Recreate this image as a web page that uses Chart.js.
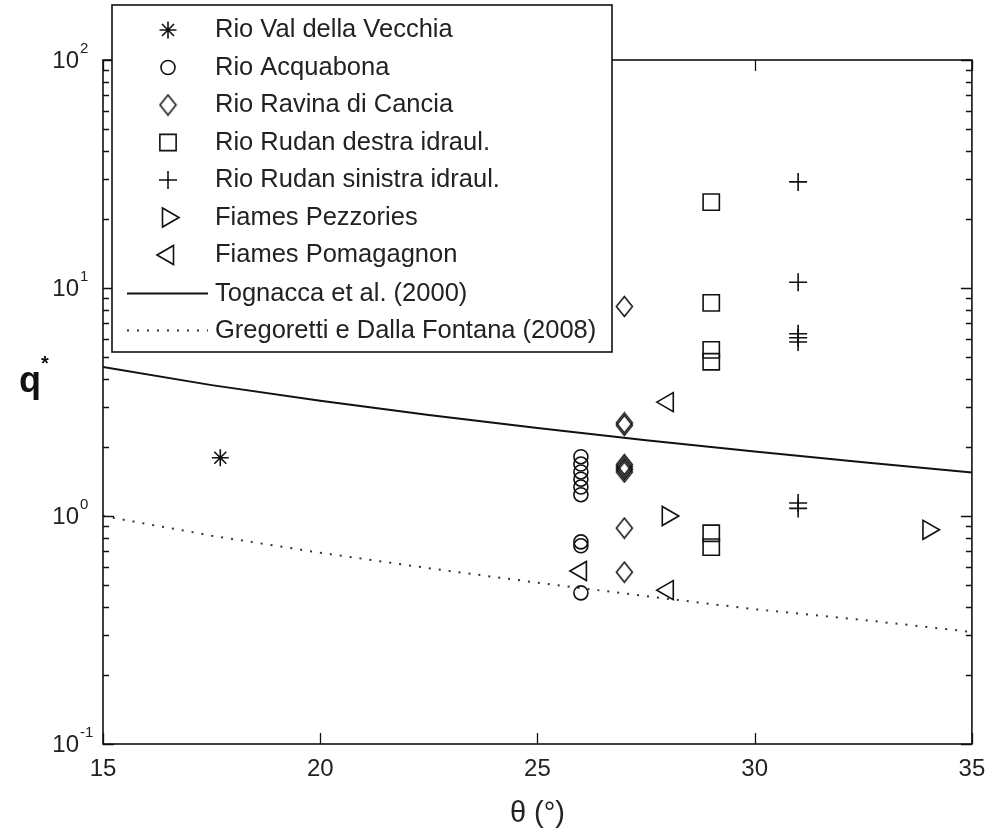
<!DOCTYPE html>
<html>
<head>
<meta charset="utf-8">
<script src="https://cdn.jsdelivr.net/npm/chart.js@4.4.0/dist/chart.umd.min.js"></script>
<style>
html, body { margin: 0; padding: 0; background: #fff; }
canvas { display: block; }
</style>
</head>
<body>
<canvas id="graph" width="985" height="828"></canvas>
<script>
// values (theta in degrees, q*)
var vecchiaX = [17.7];
var vecchiaY = [1.8];

var acquabonaX = [26, 26, 26, 26, 26, 26, 26, 26, 26];
var acquabonaY = [1.82, 1.69, 1.56, 1.45, 1.34, 1.24, 0.77, 0.74, 0.46];

var canciaX = [27, 27, 27, 27, 27, 27, 27, 27, 27];
var canciaY = [8.3, 2.56, 2.5, 1.68, 1.64, 1.6, 1.56, 0.885, 0.567];

var destraX = [29, 29, 29, 29, 29, 29];
var destraY = [23.8, 8.6, 5.35, 4.75, 0.84, 0.73];

var sinistraX = [31, 31, 31, 31, 31, 31, 31];
var sinistraY = [29.2, 10.6, 6.3, 6.05, 5.8, 1.14, 1.08];

var pezzoriesX = [28, 34];
var pezzoriesY = [1.0, 0.87];

var pomagagnonX = [28, 26, 28];
var pomagagnonY = [3.16, 0.574, 0.473];

var curveX = [15, 17.5, 20, 22.5, 25, 27.5, 30, 32.5, 35];
var tognaccaY = [4.5, 3.75, 3.2, 2.77, 2.43, 2.15, 1.92, 1.72, 1.55];
var gregorettiY = [1.0, 0.82, 0.69, 0.59, 0.51, 0.445, 0.39, 0.35, 0.31];

var xTicks = [15, 20, 25, 30, 35];
var decades = [-1, 0, 1, 2];

var FONT = '"Liberation Sans", Arial, sans-serif';
var INK = '#111';

function pts(xs, ys) {
	return xs.map(function(x, i) { return {x: x, y: ys[i]}; });
}

function makeDiamond(w, h) {
	var c = document.createElement('canvas');
	c.width = w + 3;
	c.height = h + 3;
	var g = c.getContext('2d');
	g.strokeStyle = INK;
	g.lineWidth = 1.5;
	g.beginPath();
	g.moveTo(1.5 + w / 2, 1.5);
	g.lineTo(1.5 + w, 1.5 + h / 2);
	g.lineTo(1.5 + w / 2, 1.5 + h);
	g.lineTo(1.5, 1.5 + h / 2);
	g.closePath();
	g.stroke();
	return c;
}

var diamond = makeDiamond(16, 20);

var markers = [
	{label: 'Rio Val della Vecchia', xs: vecchiaX, ys: vecchiaY, style: 'star', r: 8.5, rot: 0},
	{label: 'Rio Acquabona', xs: acquabonaX, ys: acquabonaY, style: 'circle', r: 7, rot: 0},
	{label: 'Rio Ravina di Cancia', xs: canciaX, ys: canciaY, style: diamond, r: 10, rot: 0},
	{label: 'Rio Rudan destra idraul.', xs: destraX, ys: destraY, style: 'rect', r: 11.5, rot: 0},
	{label: 'Rio Rudan sinistra idraul.', xs: sinistraX, ys: sinistraY, style: 'cross', r: 9, rot: 0},
	{label: 'Fiames Pezzories', xs: pezzoriesX, ys: pezzoriesY, style: 'triangle', r: 11, rot: 90},
	{label: 'Fiames Pomagagnon', xs: pomagagnonX, ys: pomagagnonY, style: 'triangle', r: 11, rot: -90}
];

var lines = [
	{label: 'Tognacca et al. (2000)', ys: tognaccaY, color: INK, dash: []},
	{label: 'Gregoretti e Dalla Fontana (2008)', ys: gregorettiY, color: '#333', dash: [2, 8]}
];

var datasets = [];
markers.forEach(function(m) {
	datasets.push({
		label: m.label,
		data: pts(m.xs, m.ys),
		pointStyle: m.style,
		pointRadius: m.r,
		pointRotation: m.rot,
		pointBorderWidth: 1.6,
		pointBorderColor: INK,
		pointBackgroundColor: 'rgba(0,0,0,0)',
		showLine: false
	});
});
lines.forEach(function(l) {
	datasets.push({
		label: l.label,
		data: pts(curveX, l.ys),
		showLine: true,
		borderColor: l.color,
		borderWidth: 2,
		borderDash: l.dash,
		pointRadius: 0,
		tension: 0
	});
});

// box, inward ticks and the 10^n labels
var frame = {
	id: 'frame',
	afterDatasetsDraw: function(chart) {
		var ctx = chart.ctx, a = chart.chartArea;
		var sx = chart.scales.x, sy = chart.scales.y;
		ctx.save();
		ctx.strokeStyle = INK;
		ctx.lineWidth = 1.3;
		xTicks.forEach(function(v) {
			var px = Math.round(sx.getPixelForValue(v)) + 0.5;
			ctx.beginPath();
			ctx.moveTo(px, a.bottom); ctx.lineTo(px, a.bottom - 11);
			ctx.moveTo(px, a.top); ctx.lineTo(px, a.top + 11);
			ctx.stroke();
		});
		decades.forEach(function(d) {
			for (var m = 1; m <= 9; m++) {
				if (d == 2 && m > 1) break;
				var py = Math.round(sy.getPixelForValue(m * Math.pow(10, d))) + 0.5;
				var len = m == 1 ? 11 : 6;
				ctx.beginPath();
				ctx.moveTo(a.left, py); ctx.lineTo(a.left + len, py);
				ctx.moveTo(a.right, py); ctx.lineTo(a.right - len, py);
				ctx.stroke();
			}
		});
		ctx.lineWidth = 1.6;
		ctx.strokeRect(a.left, a.top, a.right - a.left, a.bottom - a.top);

		ctx.fillStyle = '#222';
		decades.forEach(function(d) {
			var py = sy.getPixelForValue(Math.pow(10, d));
			ctx.font = '24px ' + FONT;
			ctx.textAlign = 'right';
			ctx.textBaseline = 'middle';
			ctx.fillText('10', a.left - 24, py + 1);
			ctx.font = '15px ' + FONT;
			ctx.textAlign = 'left';
			ctx.fillText(String(d), a.left - 23, py - 11);
		});

		ctx.textAlign = 'left';
		ctx.textBaseline = 'alphabetic';
		ctx.fillStyle = INK;
		ctx.font = 'bold 36px ' + FONT;
		ctx.fillText('q', 19, 392);
		ctx.font = 'bold 20px ' + FONT;
		ctx.fillText('*', 41, 370);
		ctx.restore();
	},
	afterDraw: function(chart) {
		var ctx = chart.ctx;
		var box = {left: 112, top: 5, right: 612, bottom: 352};
		ctx.save();
		ctx.fillStyle = '#fff';
		ctx.fillRect(box.left, box.top, box.right - box.left, box.bottom - box.top);
		ctx.strokeStyle = INK;
		ctx.lineWidth = 1.6;
		ctx.strokeRect(box.left, box.top, box.right - box.left, box.bottom - box.top);

		var rowY = 30, step = 37.5;
		ctx.font = '25.5px ' + FONT;
		ctx.textBaseline = 'middle';
		ctx.textAlign = 'left';
		markers.forEach(function(m, i) {
			var y = rowY + i * step;
			ctx.strokeStyle = INK;
			ctx.fillStyle = 'rgba(0,0,0,0)';
			ctx.lineWidth = 1.6;
			Chart.helpers.drawPoint(ctx, {pointStyle: m.style, radius: m.r, rotation: m.rot, borderWidth: 1.6}, 168, y);
			ctx.fillStyle = '#222';
			ctx.fillText(m.label, 215, y);
		});
		lines.forEach(function(l, i) {
			var y = Math.round(rowY + (markers.length + i) * step) + 0.5;
			ctx.strokeStyle = l.color;
			ctx.lineWidth = 2;
			ctx.setLineDash(l.dash);
			ctx.beginPath();
			ctx.moveTo(127, y); ctx.lineTo(208, y);
			ctx.stroke();
			ctx.setLineDash([]);
			ctx.fillStyle = '#222';
			ctx.fillText(l.label, 215, y);
		});
		ctx.restore();
	}
};

var ctx = document.getElementById('graph').getContext('2d');
var chart = new Chart(ctx, {
	type: 'scatter',
	data: {datasets: datasets},
	plugins: [frame],
	options: {
		responsive: false,
		animation: false,
		layout: {padding: {top: 60, right: 13, left: 0, bottom: 0}},
		plugins: {legend: {display: false}, tooltip: {enabled: false}},
		scales: {
			x: {
				type: 'linear',
				min: 15,
				max: 35,
				grid: {display: false, drawTicks: false},
				border: {display: false},
				ticks: {stepSize: 5, padding: 11, color: '#222', font: {size: 24, family: FONT}},
				title: {display: true, text: 'θ (°)', color: '#222', padding: {top: 0, bottom: 0}, font: {size: 29, family: FONT, lineHeight: 1.0}},
				afterFit: function(s) { s.height = 84; s.paddingLeft = 0; s.paddingRight = 0; }
			},
			y: {
				type: 'logarithmic',
				min: 0.1,
				max: 100,
				grid: {display: false, drawTicks: false},
				border: {display: false},
				ticks: {display: false},
				afterFit: function(s) { s.width = 103; s.paddingTop = 0; s.paddingBottom = 0; }
			}
		}
	}
});
</script>
</body>
</html>
